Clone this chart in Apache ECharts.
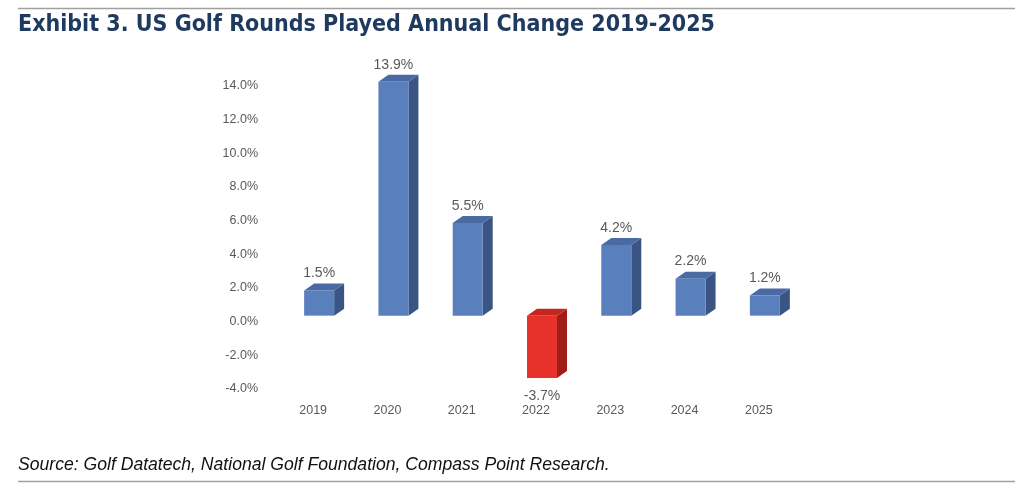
<!DOCTYPE html>
<html>
<head>
<meta charset="utf-8">
<script src="https://cdn.jsdelivr.net/npm/echarts@6/dist/echarts.min.js"></script>
<style>html,body{margin:0;padding:0;background:#fff;}#c{width:1024px;height:493px;}</style>
</head>
<body>
<div id="c"></div>
<script>
const years = ['2019','2020','2021','2022','2023','2024','2025'];
const changes = [1.5, 13.9, 5.5, -3.7, 4.2, 2.2, 1.2];
const yTicks = {min: -4, max: 14, interval: 2};
const titleText = 'Exhibit 3. US Golf Rounds Played Annual Change 2019-2025';
const sourceText = 'Source: Golf Datatech, National Golf Foundation, Compass Point Research.';

const BAR_W = 30, SHIFT_X = 6, SHIFT_Y = -6, DEP_X = 10, DEP_Y = 7;
const POS = {front:'#5a7fbd', side:'#3a5584', top:'#4a6aa3'};
const NEG = {front:'#e6322a', side:'#a11d17', top:'#c4271f'};

const chart = echarts.init(document.getElementById('c'));
function renderItem(params, api){
  const idx = api.value(0), v = api.value(1);
  const p0 = api.coord([idx, 0]);
  const p1 = api.coord([idx, v]);
  const cx = p0[0] + SHIFT_X;
  const fl = cx - BAR_W/2, fr = cx + BAR_W/2;
  const yTop = Math.min(p0[1], p1[1]) + SHIFT_Y;
  const yBot = Math.max(p0[1], p1[1]) + SHIFT_Y;
  const col = v < 0 ? NEG : POS;
  const label = v.toFixed(1) + '%';
  return {type:'group', children:[
    {type:'polygon', shape:{points:[[fr,yTop],[fr+DEP_X,yTop-DEP_Y],[fr+DEP_X,yBot-DEP_Y],[fr,yBot]]}, style:{fill:col.side}},
    {type:'polygon', shape:{points:[[fl,yTop],[fr,yTop],[fr+DEP_X,yTop-DEP_Y],[fl+DEP_X,yTop-DEP_Y]]}, style:{fill:col.top}},
    {type:'rect', shape:{x:fl, y:yTop, width:BAR_W, height:yBot-yTop}, style:{fill:col.front}},
    {type:'text', x:cx, y: v < 0 ? yBot + 18 : yTop - 17, style:{text:label, fill:'#595959', font:'14px "Liberation Sans", Arial, sans-serif', align:'center', verticalAlign:'middle'}}
  ]};
}

chart.setOption({
  animation:false,
  grid:{left:276, right:228, top:86, bottom:104},
  xAxis:{type:'category', data:years, axisLine:{show:false, onZero:false}, axisTick:{show:false},
    axisLabel:{color:'#595959', fontSize:12.5, fontFamily:'"Liberation Sans", Arial, sans-serif', margin:15}},
  yAxis:{type:'value', min:yTicks.min, max:yTicks.max, interval:yTicks.interval, splitLine:{show:false}, axisLine:{show:false}, axisTick:{show:false},
    axisLabel:{color:'#595959', fontSize:12.5, fontFamily:'"Liberation Sans", Arial, sans-serif', margin:18, formatter:v=>v.toFixed(1)+'%'}},
  series:[{type:'custom', renderItem, clip:false, data: changes.map((v,i)=>[i,v])}],
  graphic:[
    {type:'line', shape:{x1:18,y1:8.5,x2:1015,y2:8.5}, style:{stroke:'#a0a0a0', lineWidth:1.5}},
    {type:'text', left:18, top:14, style:{text:titleText, fill:'#1f3a5f', font:'bold 23px "DejaVu Sans Condensed", sans-serif'}},
    {type:'text', left:18, top:456, style:{text:sourceText, fill:'#111', font:'italic 17.6px "Liberation Sans", Arial, sans-serif'}},
    {type:'line', shape:{x1:18,y1:481.5,x2:1015,y2:481.5}, style:{stroke:'#a0a0a0', lineWidth:1.5}}
  ]
});
</script>
</body>
</html>
